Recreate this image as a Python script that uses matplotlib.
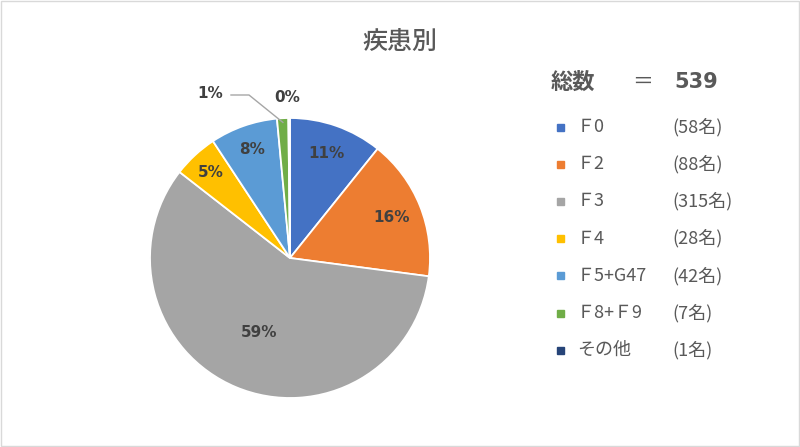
import numpy as np
import matplotlib.pyplot as plt
from matplotlib.patches import Rectangle

plt.rcParams['font.family'] = ['Noto Sans CJK JP', 'DejaVu Sans']

# データ
categories = ['Ｆ0', 'Ｆ2', 'Ｆ3', 'Ｆ4', 'Ｆ5+G47', 'Ｆ8+Ｆ9', 'その他']
counts = [58, 88, 315, 28, 42, 7, 1]
count_labels = ['(58名)', '(88名)', '(315名)', '(28名)', '(42名)', '(7名)', '(1名)']
pct_labels = ['11%', '16%', '59%', '5%', '8%', '1%', '0%']
total = 539

colors = ['#4472C4', '#ED7D31', '#A5A5A5', '#FFC000', '#5B9BD5', '#70AD47', '#264478']
label_r = [0.79, 0.78, 0.58, 0.83, 0.82, None, None]  # ラベル位置（半径比）

W, H = 800, 447
fig = plt.figure(figsize=(W / 100, H / 100), dpi=100)
ax = fig.add_axes([0, 0, 1, 1])

cx, cy, R = 290, H - 258, 140
wedges, _ = ax.pie(counts, colors=colors, startangle=90, counterclock=False,
                   center=(cx, cy), radius=R, frame=True,
                   wedgeprops=dict(edgecolor='white', linewidth=1.3))
ax.set_xlim(0, W)
ax.set_ylim(0, H)
ax.set_aspect('equal')
ax.axis('off')

ax.add_patch(Rectangle((1, 1), W - 2, H - 2, fill=False, ec='#D9D9D9', lw=1))

txt = '#404040'
pct_font = ['DejaVu Sans']
for i, w in enumerate(wedges):
    mid = np.deg2rad((w.theta1 + w.theta2) / 2)
    if label_r[i] is not None:
        x = cx + label_r[i] * R * np.cos(mid)
        y = cy + label_r[i] * R * np.sin(mid)
        ax.text(x, y, pct_labels[i], ha='center', va='center', fontsize=11,
                fontweight='bold', color=txt, family=pct_font)

# 小さいスライスのラベル
m5 = np.deg2rad((wedges[5].theta1 + wedges[5].theta2) / 2)
ex, ey = cx + R * 0.97 * np.cos(m5), cy + R * 0.97 * np.sin(m5)
ax.plot([231, 249, ex], [H - 95, H - 95, ey], color='#A6A6A6', lw=1)
ax.text(210, H - 93, pct_labels[5], ha='center', va='center', fontsize=11,
        fontweight='bold', color=txt, family=pct_font)
ax.text(287, H - 98, pct_labels[6], ha='center', va='center', fontsize=11,
        fontweight='bold', color=txt, family=pct_font)

# タイトル
ax.text(400, H - 42, '疾患別', ha='center', va='center', fontsize=18,
        fontweight='medium', color='#595959')

# 凡例
gray = '#595959'
ax.text(551, H - 82, '総数', ha='left', va='center', fontsize=16, fontweight='bold', color=gray)
ax.text(632, H - 82, '＝', ha='left', va='center', fontsize=15, color=gray)
ax.text(674, H - 82, str(total), ha='left', va='center', fontsize=15, fontweight='bold',
        color=gray, family=pct_font)
for i, (c, lab, cl) in enumerate(zip(colors, categories, count_labels)):
    y = H - (127 + i * 37.2)
    ax.add_patch(Rectangle((557, y - 3.5), 7, 7, color=c))
    ax.text(577, y, lab, ha='left', va='center', fontsize=13, color=gray)
    ax.text(672, y, cl, ha='left', va='center', fontsize=13, color=gray)

fig.savefig('out.png', dpi=100)
